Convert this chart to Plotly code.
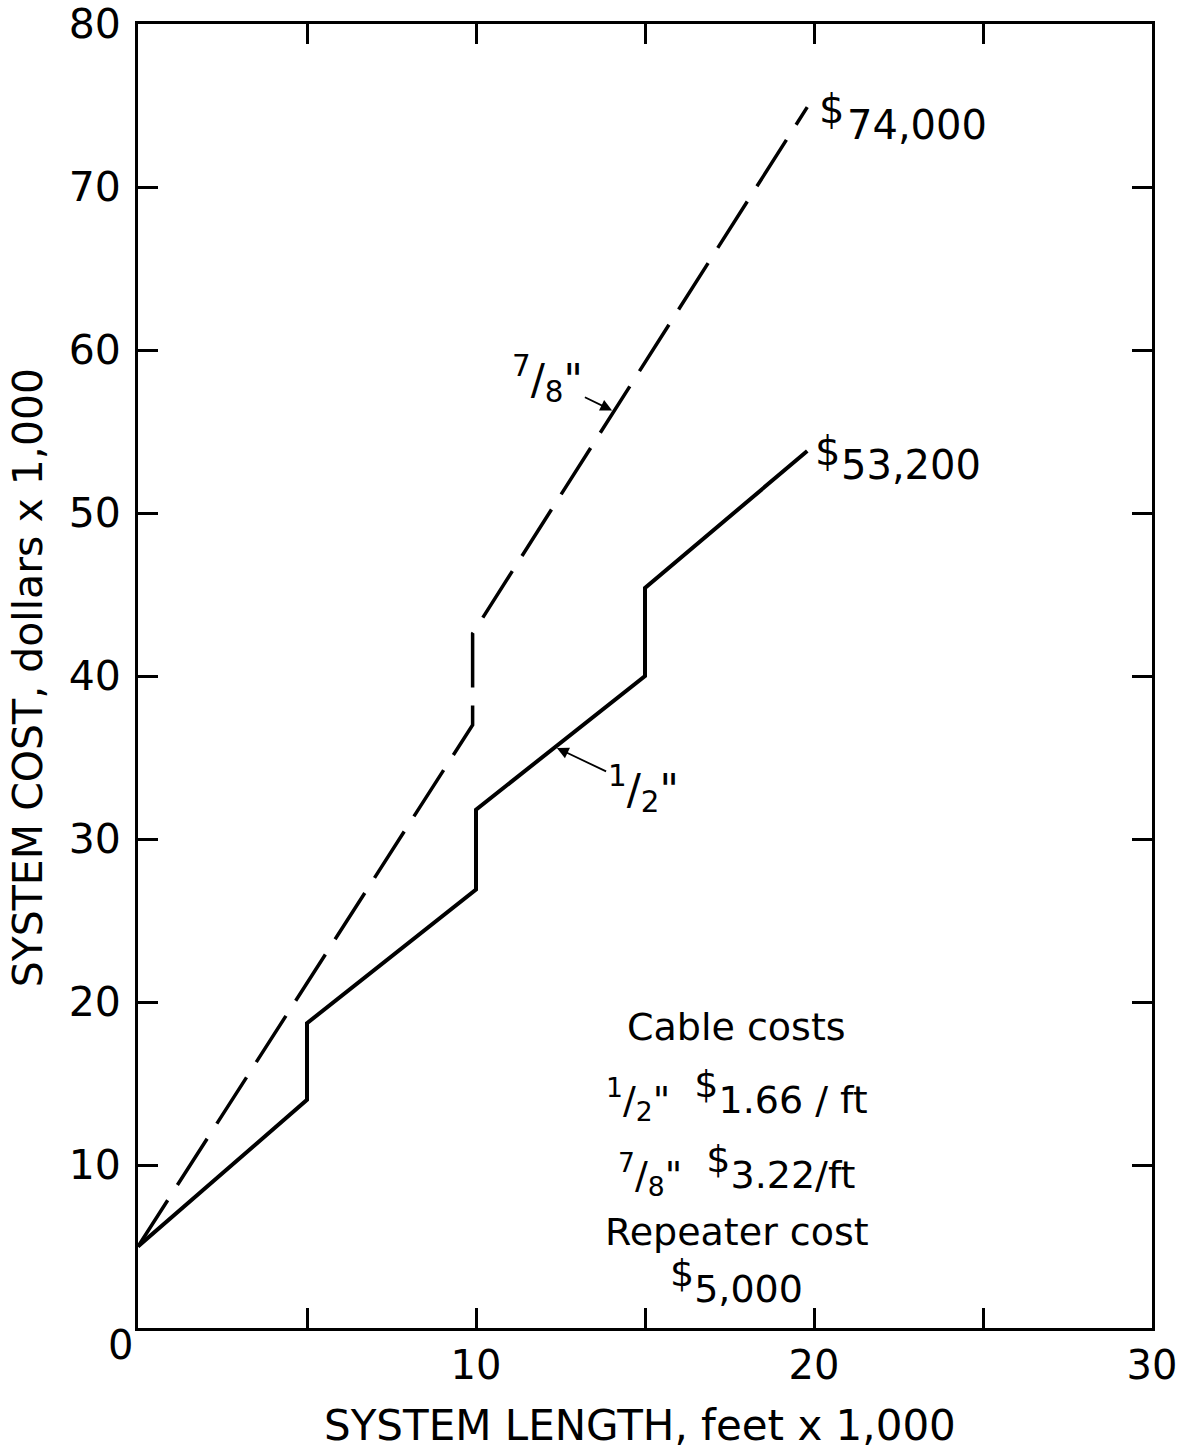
import plotly.graph_objects as go

# Data (system length in thousands of feet, system cost in thousands of dollars)
half_x = [0, 5, 5, 10, 10, 15, 15, 19.8]
half_y = [5, 14.0, 18.7, 26.9, 31.8, 40.0, 45.4, 53.8]
seven_x = [0, 9.9, 9.9, 19.8]
seven_y = [5, 37.0, 42.6, 74.9]

x_tickvals = [0, 5, 10, 15, 20, 25, 30]
x_ticktext = ["", "", "10", "", "20", "", "30"]
y_tickvals = [0, 10, 20, 30, 40, 50, 60, 70, 80]
y_ticktext = ["", "10", "20", "30", "40", "50", "60", "70", "80"]

FONT = "DejaVu Sans"
BIG = "<span style='font-size:38px'>"

fig = go.Figure()
fig.add_trace(go.Scatter(x=half_x, y=half_y, mode="lines",
                         line=dict(color="black", width=4), showlegend=False))
fig.add_trace(go.Scatter(x=seven_x, y=seven_y, mode="lines",
                         line=dict(color="black", width=3.5, dash="55px,18px"),
                         showlegend=False))

ann = []
# corner zero
ann.append(dict(x=0, y=0, xref="x", yref="y", text="0", showarrow=False,
                xshift=-18, yshift=-17, font=dict(size=40)))
# end labels
ex, ey = seven_x[-1], seven_y[-1]
ann.append(dict(x=ex, y=ey, xref="x", yref="y", text="$", showarrow=False,
                xanchor="left", xshift=10, yshift=-2, font=dict(size=40)))
ann.append(dict(x=ex, y=ey, xref="x", yref="y", text="74,000", showarrow=False,
                xanchor="left", xshift=38, yshift=-18, font=dict(size=40)))
hx, hy = half_x[-1], half_y[-1]
ann.append(dict(x=hx, y=hy, xref="x", yref="y", text="$", showarrow=False,
                xanchor="left", xshift=6, yshift=0, font=dict(size=40)))
ann.append(dict(x=hx, y=hy, xref="x", yref="y", text="53,200", showarrow=False,
                xanchor="left", xshift=32, yshift=-14, font=dict(size=40)))
# arrow labels
ann.append(dict(x=12.34, y=35.64, xref="x", yref="y",
                text="<sup>1</sup>/<sub>2</sub>\"", showarrow=True,
                ax=88, ay=42, arrowhead=2, arrowsize=1.3, arrowwidth=1.8,
                arrowcolor="black", standoff=2, font=dict(size=42)))
ann.append(dict(x=14.08, y=56.24, xref="x", yref="y",
                text="<sup>7</sup>/<sub>8</sub>\"", showarrow=True,
                ax=-66, ay=-32, arrowhead=2, arrowsize=1.3, arrowwidth=1.8,
                arrowcolor="black", standoff=2, font=dict(size=42)))
# cable cost box
box_x = 17.72
ann.append(dict(x=box_x, y=18.47, xref="x", yref="y", text="Cable costs",
                showarrow=False, font=dict(size=38)))
ann.append(dict(x=box_x, y=14.3, xref="x", yref="y",
                text="<sup>1</sup>/<sub>2</sub>\"  <sup>" + BIG + "$</span></sup>1.66 / ft",
                showarrow=False, font=dict(size=38)))
ann.append(dict(x=box_x, y=9.7, xref="x", yref="y",
                text="<sup>7</sup>/<sub>8</sub>\"  <sup>" + BIG + "$</span></sup>3.22/ft",
                showarrow=False, font=dict(size=38)))
ann.append(dict(x=box_x, y=5.9, xref="x", yref="y", text="Repeater cost",
                showarrow=False, font=dict(size=38)))
ann.append(dict(x=box_x, y=2.9, xref="x", yref="y",
                text="<sup>" + BIG + "$</span></sup>5,000",
                showarrow=False, font=dict(size=38)))
# axis titles
ann.append(dict(x=0.495, y=-0.0744, xref="paper", yref="paper",
                text="SYSTEM LENGTH, feet x 1,000", showarrow=False,
                xanchor="center", yanchor="middle", font=dict(size=42)))
ann.append(dict(x=-0.1085, y=0.499, xref="paper", yref="paper",
                text="SYSTEM COST, dollars x 1,000", showarrow=False,
                textangle=-90, xanchor="center", yanchor="middle",
                borderpad=0, font=dict(size=41)))

fig.update_layout(
    width=1192, height=1453,
    margin=dict(l=138, r=40, t=24, b=125),
    paper_bgcolor="white", plot_bgcolor="white",
    font=dict(family=FONT, color="black", size=40),
    annotations=ann,
)
fig.update_xaxes(range=[0, 30], tickvals=x_tickvals, ticktext=x_ticktext,
                 ticks="inside", ticklen=20, tickwidth=2.5, tickcolor="black",
                 showline=True, linewidth=3, linecolor="black", mirror="allticks",
                 showgrid=False, zeroline=False, ticklabelstandoff=0,
                 ticklabeloverflow="allow",
                 tickfont=dict(size=40), automargin=False)
fig.update_yaxes(range=[0, 80], tickvals=y_tickvals, ticktext=y_ticktext,
                 ticks="inside", ticklen=20, tickwidth=2.5, tickcolor="black",
                 showline=True, linewidth=3, linecolor="black", mirror="allticks",
                 showgrid=False, zeroline=False, ticklabelstandoff=6,
                 ticklabeloverflow="allow",
                 tickfont=dict(size=41), automargin=False)

# remove the default page-body margin so the figure fills the window exactly
fig.write_html("out.html", config={"displayModeBar": False},
               post_script="document.body.style.margin='0px';")
